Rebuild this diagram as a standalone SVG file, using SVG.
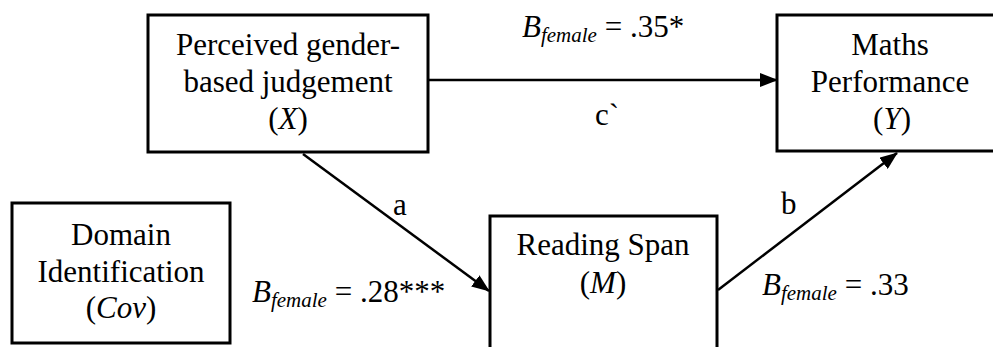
<svg xmlns="http://www.w3.org/2000/svg" width="993" height="347" viewBox="0 0 993 347">
<style>
.box{fill:#fff;stroke:#000;stroke-width:3}
text{font-family:"Liberation Serif",serif;font-size:31px;fill:#000}
.c{text-anchor:middle}
.i{font-style:italic}
.sub{font-style:italic;font-size:21px}
.ln{stroke:#000;stroke-width:2.5;fill:none}
</style>
<defs>
<marker id="ah" markerUnits="userSpaceOnUse" markerWidth="18" markerHeight="14" refX="17" refY="7" orient="auto">
<path d="M0,0 L18,7 L0,14 Z" fill="#000"/>
</marker>
</defs>
<rect width="993" height="347" fill="#fff"/>
<g id="connectors">
<line class="ln" x1="428" y1="80" x2="777" y2="80" marker-end="url(#ah)"/>
<line class="ln" x1="303" y1="154" x2="489" y2="291" marker-end="url(#ah)"/>
<line class="ln" x1="718" y1="290" x2="897" y2="153" marker-end="url(#ah)"/>
</g>
<g id="nodeX">
<rect class="box" x="148" y="15" width="280" height="137"/>
<text font-family="Liberation Serif, serif" class="c" x="288" y="55">Perceived gender-</text>
<text font-family="Liberation Serif, serif" class="c" x="288" y="92">based judgement</text>
<text font-family="Liberation Serif, serif" class="c" x="288" y="129">(<tspan class="i">X</tspan>)</text>
</g>
<g id="nodeY">
<rect class="box" x="777" y="15" width="230" height="136"/>
<text font-family="Liberation Serif, serif" class="c" x="890" y="55">Maths</text>
<text font-family="Liberation Serif, serif" class="c" x="890" y="92">Performance</text>
<text font-family="Liberation Serif, serif" class="c" x="892" y="129">(<tspan class="i">Y</tspan>)</text>
</g>
<g id="nodeCov">
<rect class="box" x="12" y="203" width="218" height="140"/>
<text font-family="Liberation Serif, serif" class="c" x="121" y="245">Domain</text>
<text font-family="Liberation Serif, serif" class="c" x="121" y="282">Identification</text>
<text font-family="Liberation Serif, serif" class="c" x="121" y="318">(<tspan class="i">Cov</tspan>)</text>
</g>
<g id="nodeM">
<rect class="box" x="490" y="216" width="227" height="150"/>
<text font-family="Liberation Serif, serif" class="c" x="603" y="255">Reading Span</text>
<text font-family="Liberation Serif, serif" class="c" x="603" y="293">(<tspan class="i">M</tspan>)</text>
</g>
<g id="labels">
<text font-family="Liberation Serif, serif" x="522" y="37"><tspan class="i">B</tspan><tspan class="sub" dy="5">female</tspan><tspan dy="-5"> = .35*</tspan></text>
<text font-family="Liberation Serif, serif" x="595" y="125">c`</text>
<text font-family="Liberation Serif, serif" x="393" y="215">a</text>
<text font-family="Liberation Serif, serif" x="252" y="302"><tspan class="i">B</tspan><tspan class="sub" dy="5">female</tspan><tspan dy="-5"> = .28***</tspan></text>
<text font-family="Liberation Serif, serif" x="781" y="214">b</text>
<text font-family="Liberation Serif, serif" x="762" y="295"><tspan class="i">B</tspan><tspan class="sub" dy="5">female</tspan><tspan dy="-5"> = .33</tspan></text>
</g>
</svg>
